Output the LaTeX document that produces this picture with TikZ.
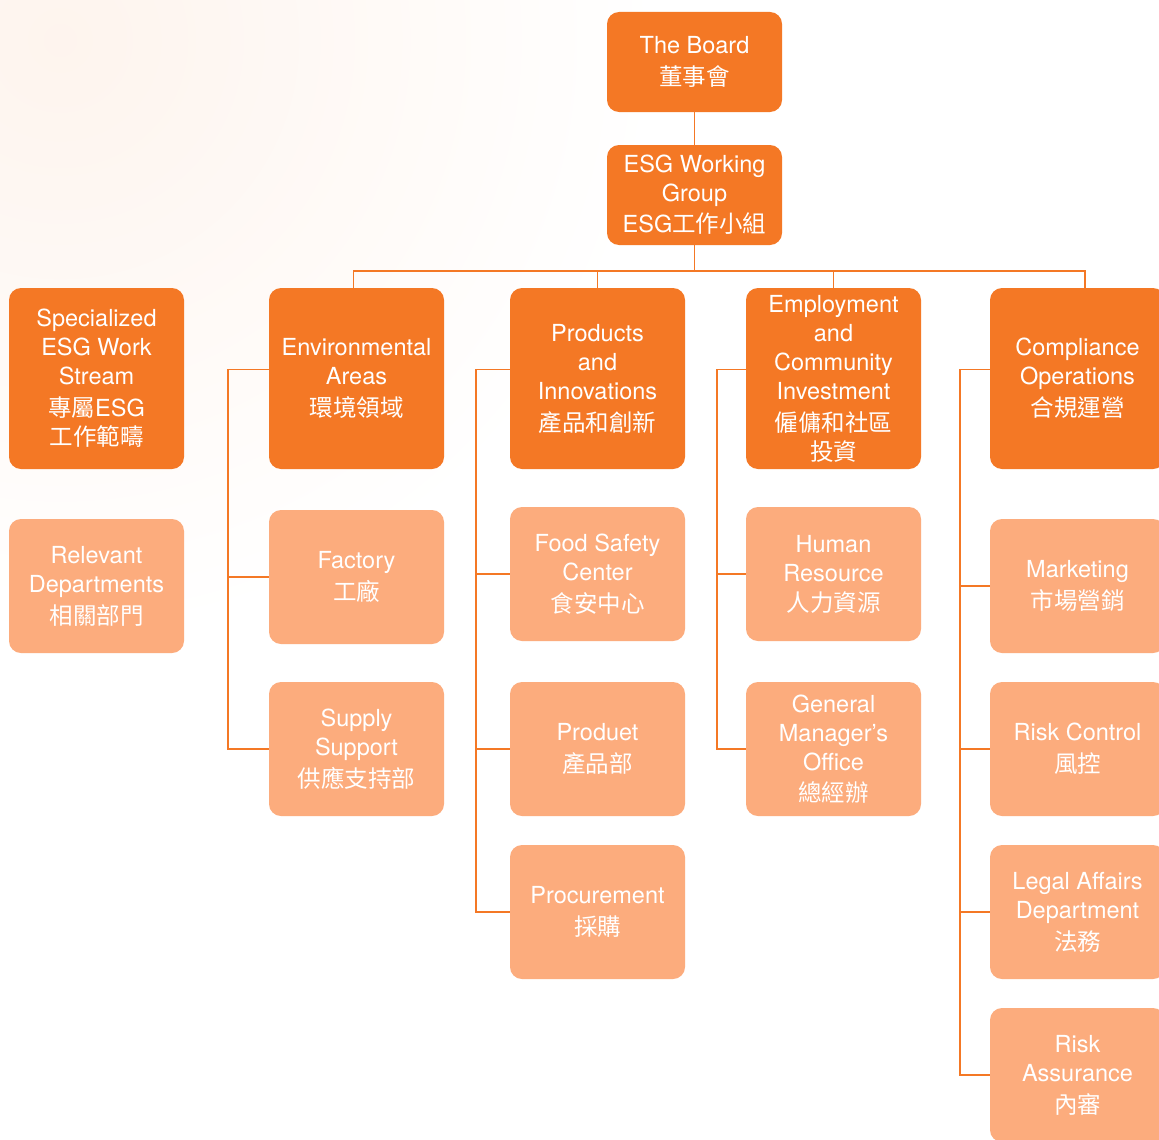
\documentclass[tikz,border=0pt]{standalone}
\usepackage{fontspec}
\setmainfont{TeX Gyre Heros}
\newfontfamily\cjk{Noto Sans CJK TC}
\definecolor{dk}{HTML}{F47825}
\definecolor{lt}{HTML}{FCAC7D}
\begin{document}
\begin{tikzpicture}[x=1pt,y=-1pt,
  box/.style={rounded corners=12pt, inner sep=0pt, align=center, text=white,
    minimum width=175pt, font=\fontsize{23.5}{29}\selectfont},
  dkbox/.style={box, fill=dk, minimum height=181pt},
  topbox/.style={box, fill=dk, minimum height=100pt},
  ltbox/.style={box, fill=lt, minimum height=134pt},
  link/.style={draw=dk, line width=1.6pt}]
\clip (0,0) rectangle (1159,1140);
\fill[white] (0,0) rectangle (1159,1140);
\shade[inner color=dk!8, outer color=white] (60,40) circle (600);
\useasboundingbox (0,0) rectangle (1159,1140);

% top
\node[topbox] (board) at (694.5,62) {The Board\\[3pt]{\cjk 董事會}};
\node[topbox] (wg) at (694.5,195) {ESG Working\\Group\\[2pt]ESG{\cjk 工作小組}};

% row 1
\node[dkbox] (spec) at (96.5,378.5) {Specialized\\ESG Work\\Stream\\[3pt]{\cjk 專屬}ESG\\{\cjk 工作範疇}};
\node[dkbox] (env) at (356.5,378.5) {Environmental\\Areas\\[3pt]{\cjk 環境領域}};
\node[dkbox] (prod) at (597.5,378.5) {Products\\and\\Innovations\\[3pt]{\cjk 產品和創新}};
\node[dkbox] (emp) at (833.5,378.5) {Employment\\and\\Community\\Investment\\[3pt]{\cjk 僱傭和社區}\\{\cjk 投資}};
\node[dkbox] (comp) at (1077.5,378.5) {Compliance\\Operations\\[3pt]{\cjk 合規運營}};

% light boxes
\node[ltbox] (rel) at (96.5,586) {Relevant\\Departments\\[3pt]{\cjk 相關部門}};
\node[ltbox] (fac) at (356.5,577) {Factory\\[3pt]{\cjk 工廠}};
\node[ltbox] (sup) at (356.5,749) {Supply\\Support\\[3pt]{\cjk 供應支持部}};
\node[ltbox] (food) at (597.5,574) {Food Safety\\Center\\[3pt]{\cjk 食安中心}};
\node[ltbox] (pdept) at (597.5,749) {Produet\\[3pt]{\cjk 產品部}};
\node[ltbox] (proc) at (597.5,912) {Procurement\\[3pt]{\cjk 採購}};
\node[ltbox] (hr) at (833.5,574) {Human\\Resource\\[1pt]{\cjk 人力資源}};
\node[ltbox] (gm) at (833.5,749) {General\\Manager’s\\Office\\[2pt]{\cjk 總經辦}};
\node[ltbox] (mkt) at (1077.5,586) {Marketing\\[3pt]{\cjk 市場營銷}};
\node[ltbox] (risk) at (1077.5,749) {Risk Control\\[3pt]{\cjk 風控}};
\node[ltbox] (legal) at (1077.5,912) {Legal Affairs\\Department\\[3pt]{\cjk 法務}};
\node[ltbox] (ra) at (1077.5,1075) {Risk\\Assurance\\[3pt]{\cjk 內審}};

% connectors
\coordinate (busY) at (0,271);
\draw[link] (board) -- (wg);
\draw[link] (wg.south) -- (wg.south |- busY);
\draw[link] ([xshift=-3pt]env.north) -- ([xshift=-3pt]env.north |- busY)
  -- ([xshift=7.5pt]comp.north |- busY) -- ([xshift=7.5pt]comp.north);
\draw[link] (prod.north) -- (prod.north |- busY);
\draw[link] (emp.north) -- (emp.north |- busY);

\coordinate (eT) at ([yshift=9pt]env.west);
\draw[link] (eT) -- ++(-41,0) coordinate (eX) |- (sup.west);
\draw[link] (eX |- fac.west) -- (fac.west);

\coordinate (pT) at ([yshift=9pt]prod.west);
\draw[link] (pT) -- ++(-34,0) coordinate (pX) |- (proc.west);
\draw[link] (pX |- food.west) -- (food.west);
\draw[link] (pX |- pdept.west) -- (pdept.west);

\coordinate (mT) at ([yshift=9pt]emp.west);
\draw[link] (mT) -- ++(-29,0) coordinate (mX) |- (gm.west);
\draw[link] (mX |- hr.west) -- (hr.west);

\coordinate (cT) at ([yshift=9pt]comp.west);
\draw[link] (cT) -- ++(-30,0) coordinate (cX) |- (ra.west);
\draw[link] (cX |- mkt.west) -- (mkt.west);
\draw[link] (cX |- risk.west) -- (risk.west);
\draw[link] (cX |- legal.west) -- (legal.west);
\end{tikzpicture}
\end{document}
